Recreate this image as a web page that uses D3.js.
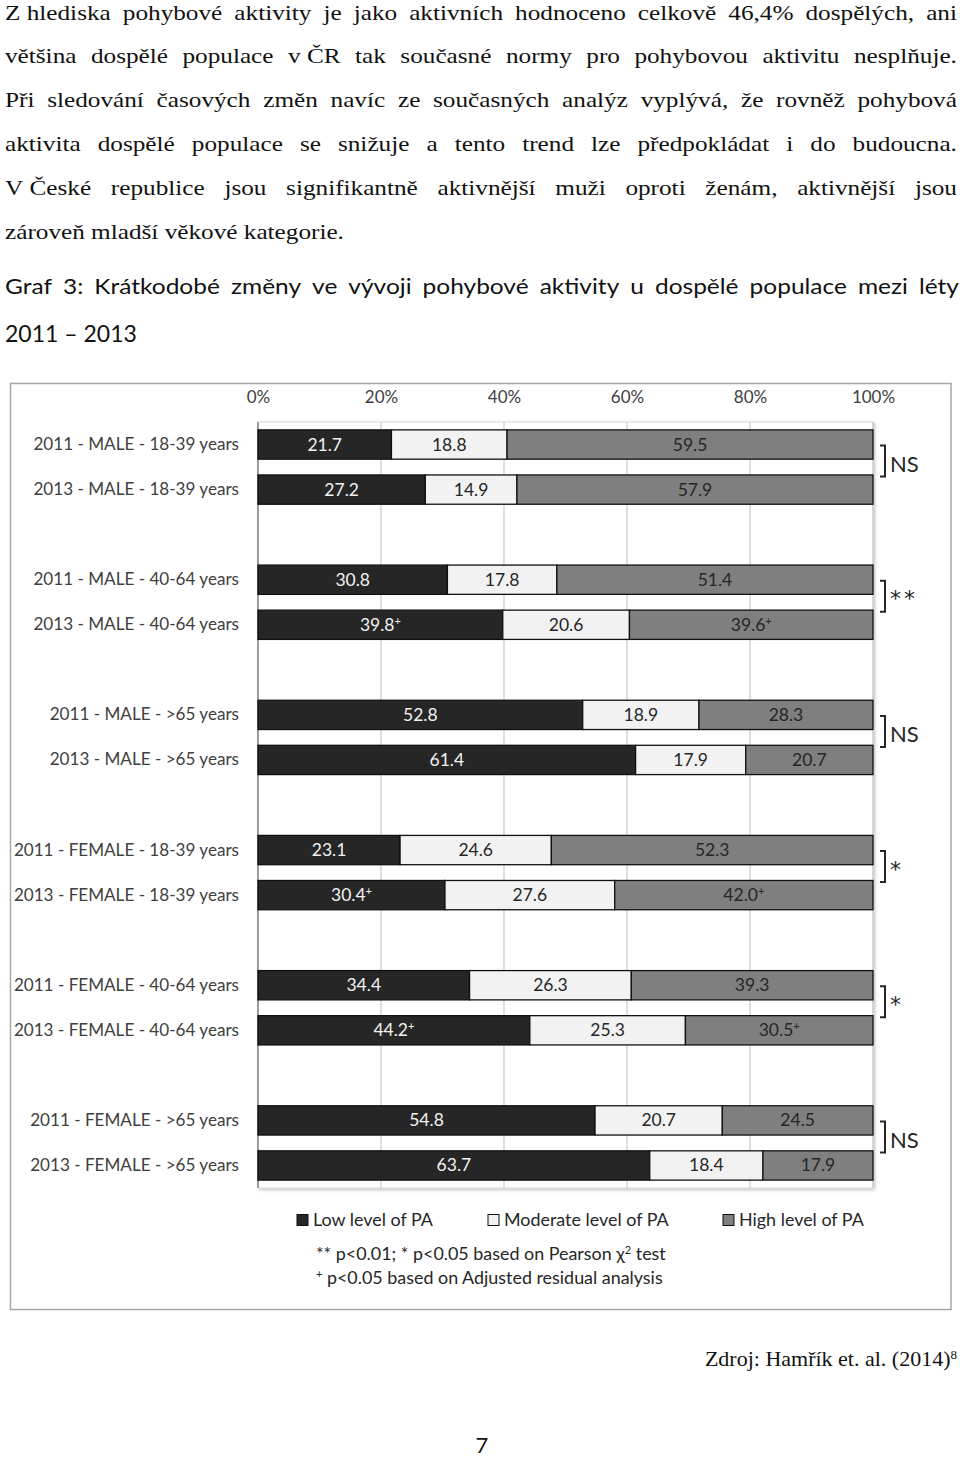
<!DOCTYPE html>
<html><head><meta charset="utf-8">
<script src="https://cdn.jsdelivr.net/npm/d3@7"></script>
<style>body{margin:0;background:#fff} svg{display:block}</style>
</head><body>
<svg id="page" width="960" height="1458"></svg>
<script>
// ---------------- data ----------------
const categories = [
  "2011 - MALE - 18-39 years", "2013 - MALE - 18-39 years",
  "2011 - MALE - 40-64 years", "2013 - MALE - 40-64 years",
  "2011 - MALE - >65 years", "2013 - MALE - >65 years",
  "2011 - FEMALE - 18-39 years", "2013 - FEMALE - 18-39 years",
  "2011 - FEMALE - 40-64 years", "2013 - FEMALE - 40-64 years",
  "2011 - FEMALE - >65 years", "2013 - FEMALE - >65 years"
];
const lowValues      = [21.7, 27.2, 30.8, 39.8, 52.8, 61.4, 23.1, 30.4, 34.4, 44.2, 54.8, 63.7];
const moderateValues = [18.8, 14.9, 17.8, 20.6, 18.9, 17.9, 24.6, 27.6, 26.3, 25.3, 20.7, 18.4];
const highValues     = [59.5, 57.9, 51.4, 39.6, 28.3, 20.7, 52.3, 42.0, 39.3, 30.5, 24.5, 17.9];
const lowMarks       = ["", "", "", "+", "", "", "", "+", "", "+", "", ""];
const moderateMarks  = ["", "", "", "", "", "", "", "", "", "", "", ""];
const highMarks      = ["", "", "", "+", "", "", "", "+", "", "+", "", ""];
const significance   = ["NS", "**", "NS", "*", "*", "NS"];
const tickValues     = [0, 20, 40, 60, 80, 100];
const seriesKeys     = ["low", "moderate", "high"];
const seriesNames    = ["Low level of PA", "Moderate level of PA", "High level of PA"];
const seriesColors   = ["#262626", "#f2f2f2", "#7f7f7f"];
const labelColors    = ["#f2f2f2", "#262626", "#262626"];

const paragraphLines = [
  "Z\u00a0hlediska pohybové aktivity je jako aktivních hodnoceno celkově 46,4% dospělých, ani",
  "většina dospělé populace v\u00a0ČR tak současné normy pro pohybovou aktivitu nesplňuje.",
  "Při sledování časových změn navíc ze současných analýz vyplývá, že rovněž pohybová",
  "aktivita dospělé populace se snižuje a tento trend lze předpokládat i do budoucna.",
  "V\u00a0České republice jsou signifikantně aktivnější muži oproti ženám, aktivnější jsou",
  "zároveň mladší věkové kategorie."
];
const captionLines = [
  "Graf 3: Krátkodobé změny ve vývoji pohybové aktivity u dospělé populace mezi léty",
  "2011 – 2013"
];
const sourceText = "Zdroj: Hamřík et. al. (2014)";
const sourceNote = "8";
const pageNumber = "7";
const footnote1 = ["** p<0.01; * p<0.05 based on Pearson χ", "2", " test"];
const footnote2 = ["+", " p<0.05 based on Adjusted residual analysis"];

// ---------------- page text ----------------
const svg = d3.select("#page");
const SERIF = "'Liberation Serif', 'Times New Roman', serif";
const SANS = "Lato, 'Open Sans', sans-serif";

function wordWidths(words, font, size) {
  const t = svg.append("text").style("font-family", font).style("font-size", size + "px");
  const w = words.map(wd => { t.text(wd); return t.node().getComputedTextLength(); });
  t.remove();
  return w;
}

// justified block of lines, horizontally scaled so the first line gets natural-looking gaps
function textBlock(lines, x0, x1, baselines, font, size, gapTarget, sxMax, lastJustified) {
  const firstWords = lines[0].split(" ");
  const W1 = d3.sum(wordWidths(firstWords, font, size));
  let sx = (x1 - x0 - gapTarget * (firstWords.length - 1)) / W1;
  sx = Math.max(1, Math.min(sxMax, sx));
  lines.forEach((line, li) => {
    const t = svg.append("text").attr("y", baselines[li]).attr("transform", `scale(${sx},1)`)
      .style("font-family", font).style("font-size", size + "px").attr("fill", "#111");
    const justify = li < lines.length - 1 || lastJustified;
    if (!justify) { t.attr("x", x0 / sx).text(line); return; }
    const words = line.split(" ");
    const ws = wordWidths(words, font, size).map(w => w * sx);
    const gap = (x1 - x0 - d3.sum(ws)) / (words.length - 1);
    let x = x0;
    words.forEach((wd, i) => {
      t.append("tspan").attr("x", x / sx).text(i < words.length - 1 ? wd + " " : wd);
      x += ws[i] + gap;
    });
  });
}

textBlock(paragraphLines, 5, 957, [19.5, 63.5, 107.5, 151.5, 195.5, 239.5], SERIF, 22, 12, 1.2, false);
textBlock([captionLines[0]], 5, 959, [294], SANS, 22, 11, 1.15, true);
textBlock([captionLines[1]], 5, 959, [341.5], SANS, 23, 11, 1.0, false);

const src = svg.append("text").attr("x", 957).attr("y", 1366).attr("text-anchor", "end")
  .style("font-family", SERIF).style("font-size", "22px").attr("fill", "#111");
src.append("tspan").text(sourceText);
src.append("tspan").attr("baseline-shift", "super").style("font-size", "13px").text(sourceNote);

svg.append("text").attr("x", 482).attr("y", 1453).attr("text-anchor", "middle")
  .style("font-family", SANS).style("font-size", "22px").attr("fill", "#111").text(pageNumber);

// ---------------- chart ----------------
const chart = svg.append("g").style("font-family", SANS);
chart.append("rect").attr("x", 10.5).attr("y", 383.5).attr("width", 940.5).attr("height", 926)
  .attr("fill", "#fff").attr("stroke", "#a6a6a6").attr("stroke-width", 1.5);

const x = d3.scaleLinear().domain([0, 100]).range([258, 873]);
const slots = [];
categories.forEach((c, i) => { slots.push(c); if (i % 2 === 1 && i < categories.length - 1) slots.push("gap" + i); });
const y = d3.scaleBand().domain(slots).range([422, 1188]).paddingInner(0.35).paddingOuter(0.175);

const defs = svg.append("defs");
const f = defs.append("filter").attr("id", "sh").attr("x", "-5%").attr("y", "-5%").attr("width", "110%").attr("height", "110%");
f.append("feDropShadow").attr("dx", 1.5).attr("dy", 1.5).attr("stdDeviation", 1.5)
  .attr("flood-color", "#000").attr("flood-opacity", 0.25);

chart.append("rect").attr("x", x(0)).attr("y", 422).attr("width", x(100) - x(0)).attr("height", 1188 - 422)
  .attr("fill", "#fff").attr("stroke", "#d9d9d9").attr("filter", "url(#sh)");

chart.append("g").selectAll("line").data(tickValues.filter(v => v > 0)).join("line")
  .attr("x1", d => x(d)).attr("x2", d => x(d)).attr("y1", 422).attr("y2", 1188)
  .attr("stroke", "#c9c9c9").attr("stroke-width", 1.2);
chart.append("line").attr("x1", x(0)).attr("x2", x(0)).attr("y1", 422).attr("y2", 1188)
  .attr("stroke", "#858585").attr("stroke-width", 1.5);

const topAxis = chart.append("g").attr("transform", "translate(0,403)")
  .call(d3.axisTop(x).tickValues(tickValues).tickFormat(d => d + "%").tickSize(0).tickPadding(0));
topAxis.select(".domain").remove();
topAxis.selectAll("text").style("font-family", SANS).style("font-size", "17px").attr("fill", "#404040");

const leftAxis = chart.append("g").attr("transform", `translate(${x(0)},0)`)
  .call(d3.axisLeft(y).tickValues(categories).tickSize(0).tickPadding(19));
leftAxis.select(".domain").remove();
leftAxis.selectAll("text").style("font-family", SANS).style("font-size", "17.1px").attr("fill", "#404040");

const rows = categories.map((c, i) => ({ cat: c, i, low: lowValues[i], moderate: moderateValues[i], high: highValues[i] }));
const marks = { low: lowMarks, moderate: moderateMarks, high: highMarks };
const stacked = d3.stack().keys(seriesKeys)(rows);

stacked.forEach((layer, k) => {
  const g = chart.append("g");
  g.selectAll("rect").data(layer).join("rect")
    .attr("x", d => x(d[0])).attr("width", d => x(d[1]) - x(d[0]))
    .attr("y", d => y(d.data.cat)).attr("height", y.bandwidth())
    .attr("fill", seriesColors[k]).attr("stroke", "#111").attr("stroke-width", 1.3);
  const t = g.selectAll("text").data(layer).join("text")
    .attr("x", d => (x(d[0]) + x(d[1])) / 2)
    .attr("y", d => y(d.data.cat) + y.bandwidth() / 2 + 6)
    .attr("text-anchor", "middle").style("font-size", "17.5px").attr("fill", labelColors[k]);
  t.append("tspan").text(d => (d[1] - d[0]).toFixed(1));
  t.filter(d => marks[layer.key][d.data.i] !== "").append("tspan")
    .attr("baseline-shift", "super").style("font-size", "11px")
    .text(d => marks[layer.key][d.data.i]);
});

// significance brackets
significance.forEach((s, g) => {
  const a = categories[2 * g], b = categories[2 * g + 1];
  const c = (y(a) + y(b) + y.bandwidth()) / 2;
  const bc = c - 6;
  chart.append("path")
    .attr("d", `M880,${bc - 15.5}H885V${bc + 15.5}H880`)
    .attr("fill", "none").attr("stroke", "#262626").attr("stroke-width", 2);
  const t = chart.append("text").attr("x", 890).attr("y", c + 4).attr("fill", "#262626").text(s);
  if (s === "NS") t.attr("y", c + 5).style("font-size", "22px");
  else t.style("font-family", "'DejaVu Sans', sans-serif").style("font-size", "22px").style("letter-spacing", "3px");
});

// legend
const legendX = [297, 488, 723];
seriesNames.forEach((n, k) => {
  chart.append("rect").attr("x", legendX[k]).attr("y", 1214.5).attr("width", 11).attr("height", 11)
    .attr("fill", seriesColors[k]).attr("stroke", "#111").attr("stroke-width", 1);
  chart.append("text").attr("x", legendX[k] + 16).attr("y", 1226)
    .style("font-size", "17.9px").attr("fill", "#262626").text(n);
});
const fn1 = chart.append("text").attr("x", 316).attr("y", 1260).style("font-size", "17.9px").attr("fill", "#262626");
fn1.append("tspan").text(footnote1[0]);
fn1.append("tspan").attr("baseline-shift", "super").style("font-size", "11px").text(footnote1[1]);
fn1.append("tspan").text(footnote1[2]);
const fn2 = chart.append("text").attr("x", 316).attr("y", 1284).style("font-size", "17.9px").attr("fill", "#262626");
fn2.append("tspan").attr("baseline-shift", "super").style("font-size", "11px").text(footnote2[0]);
fn2.append("tspan").text(footnote2[1]);
</script>
</body></html>
